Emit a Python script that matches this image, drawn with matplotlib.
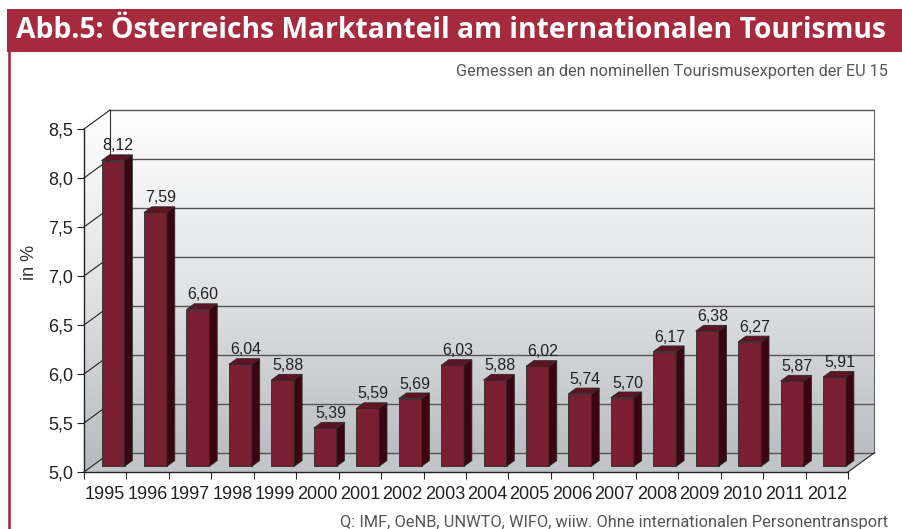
import matplotlib
matplotlib.use('Agg')
import matplotlib.pyplot as plt
import numpy as np
from matplotlib.patches import Polygon, Rectangle
from matplotlib.colors import LinearSegmentedColormap
from matplotlib.lines import Line2D

# ---------------- data ----------------
years = [str(y) for y in range(1995, 2013)]
values = [8.12, 7.59, 6.60, 6.04, 5.88, 5.39, 5.59, 5.69, 6.03,
          5.88, 6.02, 5.74, 5.70, 6.17, 6.38, 6.27, 5.87, 5.91]
yticks = [5.0, 5.5, 6.0, 6.5, 7.0, 7.5, 8.0, 8.5]
ytick_labels = [f"{t:.1f}".replace('.', ',') for t in yticks]
value_labels = [f"{v:.2f}".replace('.', ',') for v in values]
title = "Abb.5: Österreichs Marktanteil am internationalen Tourismus"
subtitle = "Gemessen an den nominellen Tourismusexporten der EU 15"
source = "Q: IMF, OeNB, UNWTO, WIFO, wiiw. Ohne internationalen Personentransport"
ylabel = "in %"

# ---------------- figure ----------------
W, H = 902, 529
fig = plt.figure(figsize=(W / 100, H / 100), dpi=100)
fig.patch.set_facecolor('white')
RED = '#a52a3e'

fig.add_artist(Rectangle((7 / W, 1 - 52 / H), 1 - 7 / W, 43 / H,
                         transform=fig.transFigure, facecolor=RED,
                         edgecolor='none', zorder=0))
fig.add_artist(Line2D([8.5 / W, 8.5 / W], [0, 1 - 52 / H],
                      transform=fig.transFigure, color=RED, lw=1.9))

renderer = fig.canvas.get_renderer()


def fit_text(t, target_px):
    w = t.get_window_extent(renderer).width
    t.set_fontsize(t.get_fontsize() * target_px / w)


t_title = fig.text(16 / W, 1 - 38 / H, title, ha='left', va='baseline',
                   color='white', fontsize=17, fontweight='bold',
                   family=['Open Sans', 'DejaVu Sans'])
fit_text(t_title, 869)

t_sub = fig.text(888 / W, 1 - 76.5 / H, subtitle, ha='right', va='baseline',
                 color='#555555', fontsize=11, family=['Roboto', 'DejaVu Sans'])
fit_text(t_sub, 431)

t_src = fig.text(888 / W, 1 - 527 / H, source, ha='right', va='baseline',
                 color='#555555', fontsize=11, family=['Roboto', 'DejaVu Sans'])
fit_text(t_src, 545)

fig.text(30 / W, 1 - 262 / H, ylabel, rotation=90, ha='center', va='center',
         fontsize=13, color='#333333', family=['Liberation Sans', 'DejaVu Sans'])

# ---------------- axes (front plane) ----------------
ax = fig.add_axes([84 / W, 1 - 472 / H, 764 / W, 343 / H])
ax.set_facecolor('none')
n = len(values)
x = np.arange(n)

DX = 26 / (764 / n)      # depth offset in category units
DY = 19 / (343 / 3.5)    # depth offset in value units
f1, f2 = 0.30, 0.60      # bar front / back depth fractions
BW = 23 / (764 / n)

x0, x1 = -0.5, n - 0.5
y0, y1 = 5.0, 8.5

# wall gradient
cmap = LinearSegmentedColormap.from_list('wall', ['#b6b9bd', '#e0e2e4', '#ffffff'])
grad = np.linspace(0, 1, 256).reshape(-1, 1)
im = ax.imshow(grad, cmap=cmap, origin='lower', aspect='auto',
               extent=(x0, x1 + DX, y0, y1 + DY), zorder=0)
wall = Polygon([(x0, y0), (x0, y1), (x0 + DX, y1 + DY), (x1 + DX, y1 + DY),
                (x1 + DX, y0 + DY), (x1, y0)], closed=True,
               transform=ax.transData, facecolor='none', edgecolor='none')
im.set_clip_box(fig.bbox)
im.set_clip_path(wall)

ax.set_xlim(x0, x1)
ax.set_ylim(y0, y1)

# floor
ax.add_patch(Polygon([(x0, y0), (x1, y0), (x1 + DX, y0 + DY), (x0 + DX, y0 + DY)],
                     closed=True, facecolor='#c2c5c8', edgecolor='none',
                     clip_on=False, zorder=1))

# back wall grid lines and left wall diagonals
for yt in yticks:
    ax.plot([x0 + DX, x1 + DX], [yt + DY, yt + DY], color='#555555', lw=1.0,
            clip_on=False, zorder=1.5)
    ax.plot([x0, x0 + DX], [yt, yt + DY], color='#222222', lw=0.8,
            clip_on=False, zorder=1.5)
ax.plot([x0 + DX, x0 + DX], [y0 + DY, y1 + DY], color='#333333', lw=0.8,
        clip_on=False, zorder=1.5)
ax.plot([x1 + DX, x1 + DX], [y0 + DY, y1 + DY], color='#666666', lw=0.8,
        clip_on=False, zorder=1.5)
ax.plot([x1, x1 + DX], [y0, y0 + DY], color='#222222', lw=0.8,
        clip_on=False, zorder=1.5)

# bars
FRONT, SIDE, TOP = '#7a1e31', '#3a0510', '#5e1424'
EDGE = '#2b2b2b'
heights = [v - 5.0 for v in values]
ax.bar(x + f1 * DX, heights, bottom=5.0 + f1 * DY, width=BW, color=FRONT,
       edgecolor=EDGE, lw=0.6, clip_on=False, zorder=3)
d = (f2 - f1)
for i, v in enumerate(values):
    left = i - BW / 2 + f1 * DX
    right = left + BW
    ax.add_patch(Polygon([(right, 5.0 + f1 * DY), (right + d * DX, 5.0 + f2 * DY),
                          (right + d * DX, v + f2 * DY), (right, v + f1 * DY)],
                         closed=True, facecolor=SIDE, edgecolor=EDGE, lw=0.6,
                         clip_on=False, zorder=3))
    ax.add_patch(Polygon([(left, v + f1 * DY), (right, v + f1 * DY),
                          (right + d * DX, v + f2 * DY), (left + d * DX, v + f2 * DY)],
                         closed=True, facecolor=TOP, edgecolor=EDGE, lw=0.6,
                         clip_on=False, zorder=3))
    ax.annotate(value_labels[i], (i + 0.5 * DX, v + f2 * DY), xytext=(0, 1),
                textcoords='offset points', ha='center', va='bottom',
                fontsize=11.5, color='#222222',
                family=['Liberation Sans', 'DejaVu Sans'], zorder=4,
                annotation_clip=False)

# spines / ticks
for s in ['top', 'right']:
    ax.spines[s].set_visible(False)
for s in ['left', 'bottom']:
    ax.spines[s].set_color('#222222')
    ax.spines[s].set_linewidth(1.0)
    ax.spines[s].set_zorder(5)

ax.set_yticks(yticks, ytick_labels)
ax.tick_params(axis='y', length=5, width=0.8, pad=3, labelsize=13,
               colors='#222222')
ax.set_xticks(x, years)
ax.set_xticks(np.arange(-0.5, n, 1.0), minor=True)
ax.tick_params(axis='x', which='major', length=0, pad=10, labelsize=13,
               colors='#222222')
ax.tick_params(axis='x', which='minor', length=5, width=0.8, color='#222222')
for lab in ax.get_xticklabels() + ax.get_yticklabels():
    lab.set_family(['Liberation Sans', 'DejaVu Sans'])

fig.savefig('out.png', dpi=100)
